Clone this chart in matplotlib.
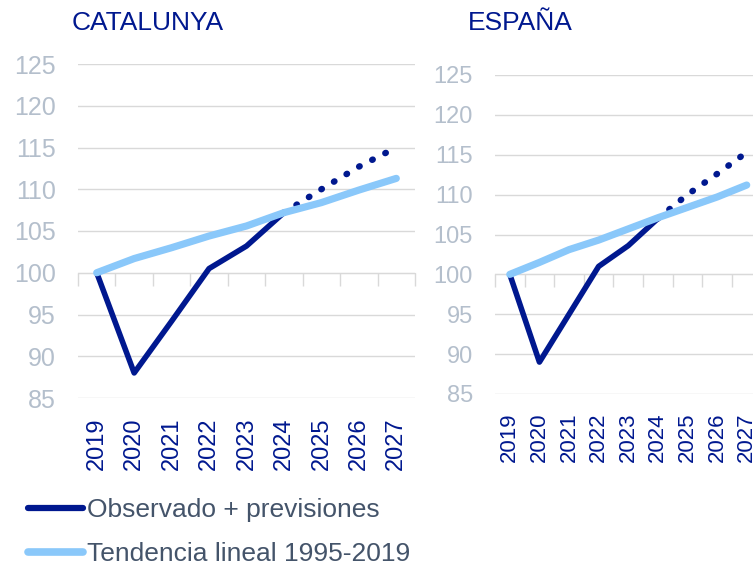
import numpy as np
import matplotlib.pyplot as plt
from matplotlib.lines import Line2D

plt.rcParams['font.family'] = ['Liberation Sans', 'DejaVu Sans']

years = ["2019", "2020", "2021", "2022", "2023", "2024", "2025", "2026", "2027"]

# Catalunya: observed up to 2024, forecast 2024-2027, linear trend 1995-2019
cat_obs = [100, 88.0, 94.2, 100.5, 103.2, 107.2]
cat_prev = [107.2, 110.0, 112.7, 115.0]
cat_trend = [100, 101.7, 103.0, 104.4, 105.6, 107.2, 108.4, 109.9, 111.3]

# España
esp_obs = [100, 89.0, 95.0, 101.0, 103.6, 107.0]
esp_prev = [107.0, 110.0, 112.6, 115.3]
esp_trend = [100, 101.5, 103.1, 104.3, 105.7, 107.1, 108.4, 109.7, 111.2]

yticks = [85, 90, 95, 100, 105, 110, 115, 120, 125]

DARK = "#00188F"
LIGHT = "#8AC8FA"
GRID = "#D9D9D9"
YLAB = "#B4BFCC"
LEG = "#44546A"


def draw_panel(ax, obs, prev, trend, ysize, xsize, ypad, xpad):
    x = np.arange(len(years))
    n = len(obs)
    ax.plot(x[:n], obs, color=DARK, lw=4, solid_capstyle="round",
            solid_joinstyle="round", zorder=3)
    ax.plot(x[n - 1:], prev, color=DARK, lw=4.6, linestyle=(0, (0.1, 2.2)),
            dash_capstyle="round", zorder=3)
    ax.plot(x, trend, color=LIGHT, lw=5.2, solid_capstyle="round", zorder=4)

    ax.set_xlim(-0.5, len(years) - 0.5)
    ax.set_ylim(85, 125)
    ax.set_yticks(yticks)
    ax.yaxis.grid(True, color=GRID, lw=1)
    ax.set_axisbelow(True)
    ax.set_xticks(x)
    ax.set_xticklabels(years, rotation=90)
    ax.tick_params(axis="x", length=0, labelcolor=DARK, labelsize=xsize, pad=xpad)
    ax.tick_params(axis="y", length=0, labelcolor=YLAB, labelsize=ysize, pad=ypad)
    for s in ax.spines.values():
        s.set_visible(False)

    # category axis crossing at 100 with tick marks between categories
    sec = ax.secondary_xaxis((100 - 85) / 40)
    sec.set_xticks(np.arange(-0.5, len(years), 1))
    sec.set_xticklabels([])
    sec.tick_params(length=9, color=GRID, width=1)
    for s in sec.spines.values():
        s.set_color(GRID)


fig = plt.figure(figsize=(7.53, 5.76), dpi=100)

ax1 = fig.add_axes([78 / 753, 1 - 398 / 576, 337 / 753, 334 / 576])
draw_panel(ax1, cat_obs, cat_prev, cat_trend, 18, 17, 16, 14)

ax2 = fig.add_axes([495 / 753, 1 - 394 / 576, 266.5 / 753, 319 / 576])
draw_panel(ax2, esp_obs, esp_prev, esp_trend, 17, 16, 16, 13)

fig.text(72 / 753, 1 - 23 / 576, "CATALUNYA", color=DARK, fontsize=19, va="center")
fig.text(468 / 753, 1 - 23 / 576, "ESPAÑA", color=DARK, fontsize=19, va="center")

handles = [Line2D([], [], color=DARK, lw=4.5, solid_capstyle="round"),
           Line2D([], [], color=LIGHT, lw=5.5, solid_capstyle="round")]
labels = ["Observado + previsiones", "Tendencia lineal 1995-2019"]
fig.legend(handles, labels, loc="upper left", bbox_to_anchor=(28 / 753, 1 - 498 / 576),
           frameon=False, fontsize=19, handlelength=2.1, handletextpad=0.12,
           labelspacing=0.75, borderpad=0, borderaxespad=0, labelcolor=LEG)

fig.savefig("out.png", dpi=100)
